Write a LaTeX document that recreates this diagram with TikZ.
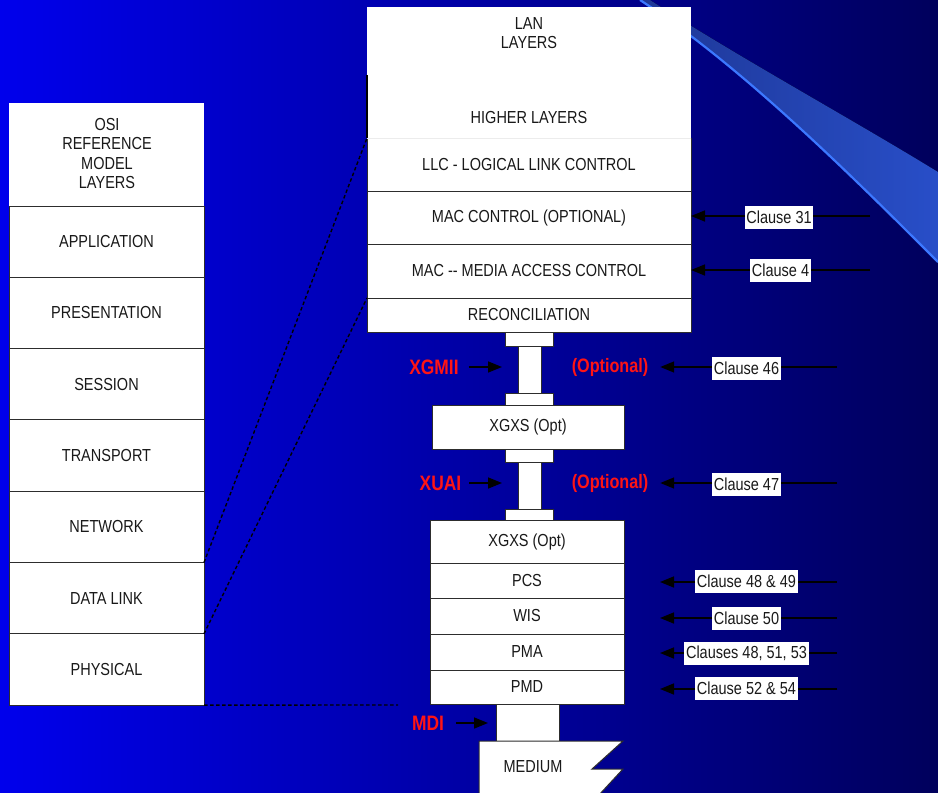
\documentclass[tikz,border=0pt]{standalone}
\usepackage{fontspec}
\usepackage{graphicx}
\setmainfont{Liberation Sans}
\usetikzlibrary{arrows.meta}
\definecolor{bgL}{RGB}{0,0,236}
\definecolor{bgR}{RGB}{0,0,92}
\definecolor{edge}{RGB}{45,45,45}
\definecolor{txt}{RGB}{25,25,25}
\definecolor{optred}{RGB}{255,20,20}
\definecolor{bandL}{RGB}{30,55,150}
\definecolor{bandR}{RGB}{40,78,200}
\definecolor{streak}{RGB}{60,120,255}
\newcommand{\vs}[1]{\scalebox{1}[1.2]{#1}}
\begin{document}
\begin{tikzpicture}[x=1pt,y=-1pt,
  layer/.style={draw=edge, line width=1pt, fill=white, inner sep=0pt, outer sep=0pt,
    anchor=north west, text=txt, font=\fontsize{14.5}{19}\selectfont, align=center},
  plain/.style={fill=white, inner sep=0pt, outer sep=0pt, anchor=north west},
  lbl/.style={inner sep=0pt, outer sep=0pt, text=txt, font=\fontsize{14.5}{19.5}\selectfont, align=center},
  redlbl/.style={inner sep=0pt, outer sep=0pt, text=optred, font=\fontsize{17.4}{20}\selectfont\bfseries},
  optlbl/.style={inner sep=0pt, outer sep=0pt, text=optred, font=\fontsize{16.2}{20}\selectfont\bfseries},
  clause/.style={fill=white, inner xsep=0pt, inner ysep=0pt, outer sep=0pt, minimum height=23pt,
    text=txt, font=\fontsize{14.5}{17}\selectfont},
  arr/.style={draw=black, line width=1.6pt, -{Triangle[length=14pt,width=11pt]}},
  pline/.style={draw=black, line width=1.6pt},
  dots/.style={draw=black, line width=1.4pt, dash pattern=on 3.5pt off 2.5pt},
]
\useasboundingbox (0,0) rectangle (938,793);
\shade[left color=bgL, right color=bgR] (0,0) rectangle (938,793);

% light streak
\fill[left color=bandL, right color=bandR] (650,0) .. controls (740,58) and (850,118) .. (938,172)
  -- (938,262) .. controls (848,172) and (740,65) .. (640,0) -- cycle;
\draw[streak, line width=2.2pt] (640,0) .. controls (740,65) and (848,172) .. (938,262);

% OSI stack
\node[plain, minimum width=195pt, minimum height=103pt] (osihdr) at (9,103) {};
\node[lbl] (osilbl) at (107,153.5) {\vs{OSI}\\\vs{REFERENCE}\\\vs{MODEL}\\\vs{LAYERS}};
\node[layer, minimum width=195pt, minimum height=71.3pt] (app) at (9,206) {\vs{APPLICATION}};
\node[layer, minimum width=195pt, minimum height=71.3pt] (pres) at (9,277.3) {\vs{PRESENTATION}};
\node[layer, minimum width=195pt, minimum height=71.3pt] (sess) at (9,348.6) {\vs{SESSION}};
\node[layer, minimum width=195pt, minimum height=71.3pt] (trans) at (9,419.9) {\vs{TRANSPORT}};
\node[layer, minimum width=195pt, minimum height=71.3pt] (net) at (9,491.2) {\vs{NETWORK}};
\node[layer, minimum width=195pt, minimum height=71.3pt] (dl) at (9,562.5) {\vs{DATA LINK}};
\node[layer, minimum width=195pt, minimum height=71.3pt] (phy) at (9,633.8) {\vs{PHYSICAL}};

% LAN stack
\node[plain, minimum width=324pt, minimum height=131pt] (lanhdr) at (367,7) {};
\node[lbl] (lanlbl) at (529,33) {\vs{LAN}\\\vs{LAYERS}};
\node[lbl] (higher) at (529,118) {\vs{HIGHER LAYERS}};
\node[layer, minimum width=324pt, minimum height=53pt] (llc) at (367,138) {\vs{LLC - LOGICAL LINK CONTROL}};
\node[layer, minimum width=324pt, minimum height=53pt] (macctl) at (367,191) {\vs{MAC CONTROL (OPTIONAL)}};
\node[layer, minimum width=324pt, minimum height=54pt] (mac) at (367,244) {\vs{MAC -{}- MEDIA ACCESS CONTROL}};
\node[layer, minimum width=324pt, minimum height=34pt] (rec) at (367,298) {\vs{RECONCILIATION}};
\draw[gray!15, line width=1pt] (llc.north west) -- (llc.north east);
\coordinate (blk) at (367,75);
\draw[black, line width=1.5pt] (blk) -- (llc.north west);

% XGMII connector
\node[layer, minimum width=23pt, minimum height=47pt] (post1) at (518,346) {};
\node[layer, minimum width=48pt, minimum height=14pt] (cap1a) at (505,332) {};
\node[layer, minimum width=48pt, minimum height=12pt] (cap1b) at (505,393) {};
\node[layer, minimum width=192pt, minimum height=44pt] (xgxs1) at (432,405) {\vs{XGXS (Opt)}};
% XAUI connector
\node[layer, minimum width=23pt, minimum height=47pt] (post2) at (518,462) {};
\node[layer, minimum width=48pt, minimum height=13pt] (cap2a) at (505,449) {};
\node[layer, minimum width=48pt, minimum height=11pt] (cap2b) at (505,509) {};

% lower stack
\node[layer, minimum width=194pt, minimum height=43pt] (xgxs2) at (430,520) {\vs{XGXS (Opt)}};
\node[layer, minimum width=194pt, minimum height=35pt] (pcs) at (430,563) {\vs{PCS}};
\node[layer, minimum width=194pt, minimum height=36pt] (wis) at (430,598) {\vs{WIS}};
\node[layer, minimum width=194pt, minimum height=36pt] (pma) at (430,634) {\vs{PMA}};
\node[layer, minimum width=194pt, minimum height=34pt] (pmd) at (430,670) {\vs{PMD}};
\node[layer, minimum width=63pt, minimum height=37pt] (mdipost) at (496,704) {};
\draw[draw=edge, line width=1pt, fill=white] (479,741) -- (623,741) -- (592,769) -- (623,769) -- (598,796) -- (479,796) -- cycle;
\node[lbl] (medium) at (533,767) {\vs{MEDIUM}};

% dotted mapping lines
\draw[dots] (dl.north east) -- (llc.north west);
\draw[dots] (dl.south east) -- (rec.north west);
\coordinate (dotend) at (398,705);
\draw[dots] (phy.south east) -- (dotend);

% red labels
\node[redlbl] (xgmii) at (434,367) {\vs{XGMII}};
\node[optlbl] (opt1) at (610,367) {\vs{(Optional)}};
\node[redlbl] (xaui) at (440.5,483) {\vs{XUAI}};
\node[optlbl] (opt2) at (610,483) {\vs{(Optional)}};
\node[redlbl] (mdi) at (428,723) {\vs{MDI}};
\draw[arr, shorten <=10pt, shorten >=16pt] (xgmii.east) -- (xgmii.east -| post1.west);
\draw[arr, shorten <=8pt, shorten >=16pt] (xaui.east) -- (xaui.east -| post2.west);
\draw[arr, shorten <=12pt, shorten >=8pt] (mdi.east) -- (mdi.east -| mdipost.west);

% clause labels
\node[clause, minimum width=68pt] (cl31) at (779,217) {\vs{Clause 31}};
\node[clause, minimum width=61pt] (cl4) at (780.5,270.5) {\vs{Clause 4}};
\node[clause, minimum width=69pt] (cl46) at (746.5,368) {\vs{Clause 46}};
\node[clause, minimum width=69pt] (cl47) at (746.5,484) {\vs{Clause 47}};
\node[clause, minimum width=103pt] (cl48) at (746.5,581.5) {\vs{Clause 48 \& 49}};
\node[clause, minimum width=69pt] (cl50) at (746.5,618.5) {\vs{Clause 50}};
\node[clause, minimum width=125pt] (cl51) at (746.5,653.5) {\vs{Clauses 48, 51, 53}};
\node[clause, minimum width=103pt] (cl52) at (746.5,688.5) {\vs{Clause 52 \& 54}};

\coordinate (e31) at (870,216);
\coordinate (e4) at (870,270);
\draw[pline] (e31) -- (e31 -| cl31.east);
\draw[arr] (cl31.west |- e31) -- (e31 -| macctl.east);
\draw[pline] (e4) -- (e4 -| cl4.east);
\draw[arr] (cl4.west |- e4) -- (e4 -| mac.east);

\coordinate (e46) at (837,367);
\coordinate (e47) at (837,483);
\draw[pline] (e46) -- (e46 -| cl46.east);
\draw[arr, shorten >=12pt] (cl46.west |- e46) -- (e46 -| opt1.east);
\draw[pline] (e47) -- (e47 -| cl47.east);
\draw[arr, shorten >=12pt] (cl47.west |- e47) -- (e47 -| opt2.east);

\coordinate (e48) at (837,582);
\coordinate (e50) at (837,618);
\coordinate (e51) at (837,653);
\coordinate (e52) at (837,689);
\draw[pline] (e48) -- (e48 -| cl48.east);
\draw[arr, shorten >=36pt] (cl48.west |- e48) -- (e48 -| pcs.east);
\draw[pline] (e50) -- (e50 -| cl50.east);
\draw[arr, shorten >=36pt] (cl50.west |- e50) -- (e50 -| wis.east);
\draw[pline] (e51) -- (e51 -| cl51.east);
\draw[arr, shorten >=36pt] (cl51.west |- e51) -- (e51 -| pma.east);
\draw[pline] (e52) -- (e52 -| cl52.east);
\draw[arr, shorten >=36pt] (cl52.west |- e52) -- (e52 -| pmd.east);
\end{tikzpicture}
\end{document}
